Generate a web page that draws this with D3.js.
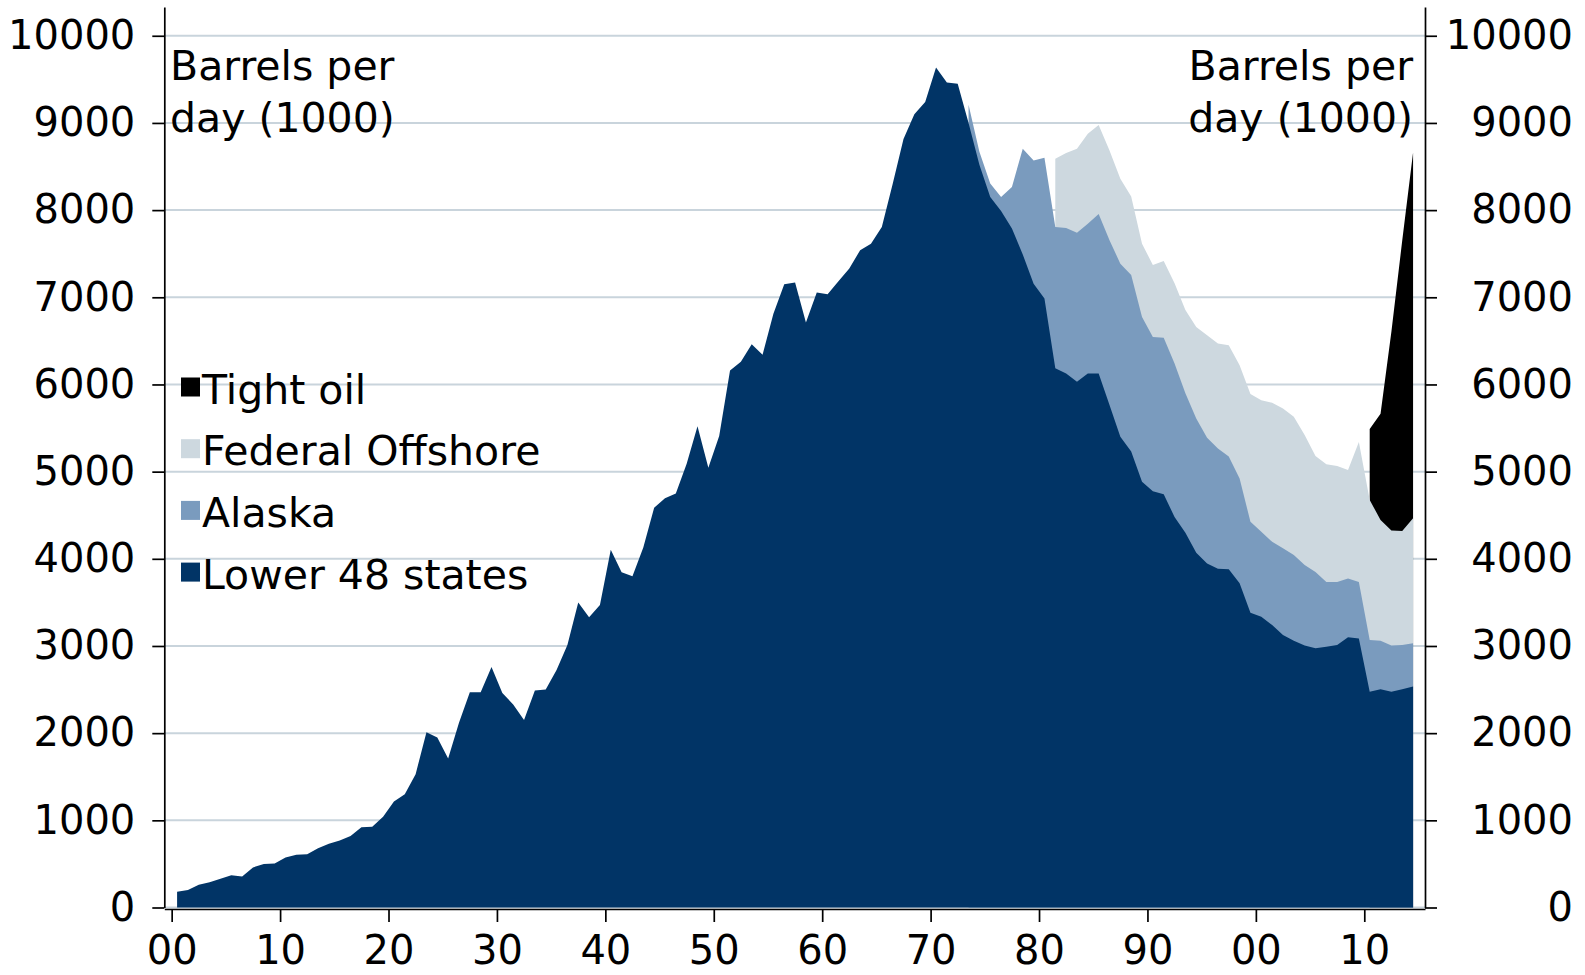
<!DOCTYPE html>
<html>
<head>
<meta charset="utf-8">
<script src="https://cdn.jsdelivr.net/npm/d3@7"></script>
<style>
  body { margin: 0; background: #fff; }
  text { font-family: "DejaVu Sans", Verdana, sans-serif; }
</style>
</head>
<body>
<svg id="chart" width="1585" height="975"></svg>
<script>
// US crude oil production, thousand barrels per day
var years = d3.range(1900, 2015);

var lower48 = [180, 200, 260, 290, 330, 370, 355, 460, 500, 505,     // 1900s
  575, 605, 610, 680, 730, 770, 820, 920, 925, 1040,                 // 1910s
  1215, 1300, 1530, 2010, 1950, 1710, 2120, 2470, 2470, 2760,        // 1920s
  2460, 2330, 2150, 2490, 2500, 2725, 3010, 3500, 3330, 3470,        // 1930s
  4105, 3845, 3800, 4130, 4585, 4695, 4750, 5090, 5520, 5045,        // 1940s
  5410, 6160, 6260, 6460, 6340, 6810, 7150, 7170, 6710, 7055,        // 1950s
  7035, 7185, 7330, 7540, 7615, 7805, 8300, 8815, 9100, 9240,        // 1960s
  9635, 9465, 9450, 9000, 8520, 8150, 7990, 7790, 7490, 7155,        // 1970s
  6985, 6185, 6125, 6030, 6125, 6125, 5765, 5400, 5230, 4885,        // 1980s
  4775, 4740, 4480, 4300, 4070, 3945, 3885, 3880, 3720, 3380,        // 1990s
  3335, 3240, 3125, 3060, 3005, 2975, 2990, 3010, 3100, 3085,        // 2000s
  2475, 2505, 2475, 2505, 2535];                                     // 2010-2014

var alaskaStart = 1973;
var alaska = [210, 150, 155, 160, 475, 1215, 1415, 1615,             // 1973-1980
  1620, 1670, 1710, 1720, 1830, 1890, 1985, 2025, 1890, 1770,        // 1981-1990
  1795, 1760, 1600, 1540, 1445, 1380, 1295, 1200, 1045, 975,         // 1991-2000
  955, 995, 985, 925, 875, 745, 725, 675, 650, 595,                  // 2001-2010
  555, 530, 505, 495];                                               // 2011-2014

var offshoreStart = 1981;
var offshore = [785, 860, 965, 1030, 1020, 1030, 975, 900, 840, 825, // 1981-1990
  880, 920, 955, 1050, 1175, 1205, 1275, 1300, 1465, 1510,           // 1991-2000
  1595, 1605, 1585, 1490, 1330, 1350, 1330, 1245, 1605, 1605,        // 2001-2010
  1385, 1320, 1310, 1435];                                           // 2011-2014

var tightStart = 2010;
var tightOil = [815, 1220, 2280, 3330, 4195];                        // 2010-2014

var yTicks = [0, 1000, 2000, 3000, 4000, 5000, 6000, 7000, 8000, 9000, 10000];
var xTicks = [1900, 1910, 1920, 1930, 1940, 1950, 1960, 1970, 1980, 1990, 2000, 2010];

var series = [
  {name: 'Lower 48 states', start: 1900, values: lower48, color: '#013466'},
  {name: 'Alaska', start: alaskaStart, values: alaska, color: '#7a9bbe'},
  {name: 'Federal Offshore', start: offshoreStart, values: offshore, color: '#cdd8df'},
  {name: 'Tight oil', start: tightStart, values: tightOil, color: '#000000'}
];

// running totals, null before a series starts
var running = years.map(function() { return 0; });
series.forEach(function(s) {
  s.cum = years.map(function(yr, i) {
    var j = yr - s.start;
    if (j < 0) return null;
    running[i] += s.values[j];
    return {yr: yr, v: running[i]};
  });
});

var svg = d3.select('#chart');
var plotLeft = 164.3, plotRight = 1425, plotTop = 7, plotBottom = 907.5;

var x = d3.scaleLinear().domain([1899.32, 2015.6]).range([plotLeft, plotRight]);
var y = d3.scaleLinear().domain([0, 10330]).range([plotBottom, plotTop]);

// gridlines
svg.append('g').selectAll('line')
  .data(yTicks)
  .enter().append('line')
  .attr('x1', plotLeft).attr('x2', plotRight)
  .attr('y1', function(d) { return y(d); })
  .attr('y2', function(d) { return y(d); })
  .attr('stroke', '#c9d4dc')
  .attr('stroke-width', 2);

var area = d3.area()
  .defined(function(d) { return d !== null; })
  .x(function(d) { return x(d.yr + 0.5); })
  .y0(y(0))
  .y1(function(d) { return y(d.v); });

// top of the stack first, lower layers painted over it
svg.append('g').selectAll('path')
  .data(series.slice().reverse())
  .enter().append('path')
  .attr('d', function(s) { return area(s.cum); })
  .attr('fill', function(s) { return s.color; });

var fontSize = 40;
var fmt = d3.format('d');

var yLeft = svg.append('g')
  .attr('transform', 'translate(' + plotLeft + ',0)')
  .call(d3.axisLeft(y).tickValues(yTicks).tickFormat(fmt)
    .tickSize(12).tickSizeOuter(0).tickPadding(17));

var yRight = svg.append('g')
  .attr('transform', 'translate(' + plotRight + ',0)')
  .call(d3.axisRight(y).tickValues(yTicks).tickFormat(fmt)
    .tickSize(12).tickSizeOuter(0));
yRight.selectAll('text').attr('x', 148).attr('text-anchor', 'end');

var xAxis = svg.append('g')
  .attr('transform', 'translate(0,' + (plotBottom + 1.5) + ')')
  .call(d3.axisBottom(x).tickValues(xTicks).tickSize(13).tickSizeOuter(0).tickPadding(14)
    .tickFormat(function(d) { return String(d % 100).padStart(2, '0'); }));

[yLeft, yRight, xAxis].forEach(function(g) {
  g.selectAll('path, line').attr('stroke', '#000').attr('stroke-width', 1.7);
  g.selectAll('text').attr('font-size', fontSize).attr('fill', '#000')
    .style('font-family', '"DejaVu Sans", Verdana, sans-serif');
});

// unit labels
var unit = ['Barrels per', 'day (1000)'];
svg.append('g').selectAll('text')
  .data(unit).enter().append('text')
  .attr('x', 170)
  .attr('y', function(d, i) { return 79.5 + i * 52; })
  .attr('font-size', 41)
  .text(function(d) { return d; });
svg.append('g').selectAll('text')
  .data(unit).enter().append('text')
  .attr('x', 1413)
  .attr('y', function(d, i) { return 79.5 + i * 52; })
  .attr('text-anchor', 'end')
  .attr('font-size', 41)
  .text(function(d) { return d; });

// legend
var legend = svg.append('g').selectAll('g')
  .data(series.slice().reverse())
  .enter().append('g')
  .attr('transform', function(d, i) { return 'translate(181,' + (403.5 + i * 61.7) + ')'; });
legend.append('rect')
  .attr('x', 0).attr('y', -26).attr('width', 19).attr('height', 19)
  .attr('fill', function(d) { return d.color; });
legend.append('text')
  .attr('x', 21).attr('y', 0)
  .attr('font-size', 41)
  .text(function(d) { return d.name; });
</script>
</body>
</html>
